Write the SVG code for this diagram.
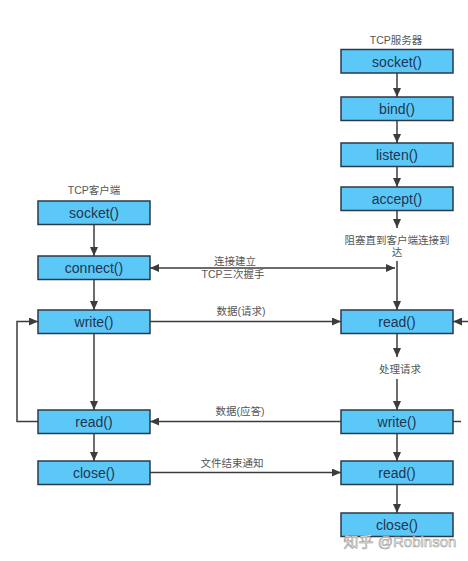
<svg xmlns="http://www.w3.org/2000/svg" width="468" height="561" viewBox="0 0 468 561">
<style>
.box{fill:#5cc8f7;stroke:#2b3a48;stroke-width:1.5}
.bt{font-family:"Liberation Sans",Arial,sans-serif;font-size:14px;fill:#1e3552;text-anchor:middle}
.lb{font-family:"Liberation Sans","Noto Sans CJK SC",sans-serif;font-size:10.5px;fill:#555;text-anchor:middle}
.ln{fill:none;stroke:#3c3c3c;stroke-width:1.5}
</style>
<defs>
<marker id="ah" markerUnits="userSpaceOnUse" markerWidth="10" markerHeight="8" refX="9" refY="4" orient="auto-start-reverse">
<path d="M0,0 L9,4 L0,8 z" fill="#3c3c3c"/>
</marker>
</defs>
<rect width="468" height="561" fill="#fff"/>
<text class="lb" x="94" y="194">TCP客户端</text>
<text class="lb" x="396" y="44">TCP服务器</text>
<g id="connectors">
<line class="ln" x1="94" y1="224.5" x2="94" y2="256" marker-end="url(#ah)"/>
<line class="ln" x1="94" y1="279.5" x2="94" y2="310" marker-end="url(#ah)"/>
<line class="ln" x1="94" y1="333.5" x2="94" y2="410" marker-end="url(#ah)"/>
<line class="ln" x1="94" y1="433.5" x2="94" y2="461" marker-end="url(#ah)"/>
<line class="ln" x1="397" y1="73" x2="397" y2="97" marker-end="url(#ah)"/>
<line class="ln" x1="397" y1="120.5" x2="397" y2="143" marker-end="url(#ah)"/>
<line class="ln" x1="397" y1="166.5" x2="397" y2="187" marker-end="url(#ah)"/>
<line class="ln" x1="397" y1="210.5" x2="397" y2="228" marker-end="url(#ah)"/>
<line class="ln" x1="397" y1="261" x2="397" y2="310" marker-end="url(#ah)"/>
<line class="ln" x1="397" y1="333.5" x2="397" y2="357" marker-end="url(#ah)"/>
<line class="ln" x1="397" y1="379" x2="397" y2="410" marker-end="url(#ah)"/>
<line class="ln" x1="397" y1="433.5" x2="397" y2="461" marker-end="url(#ah)"/>
<line class="ln" x1="397" y1="484.5" x2="397" y2="513" marker-end="url(#ah)"/>
<line class="ln" x1="150" y1="268" x2="395" y2="268" marker-start="url(#ah)" marker-end="url(#ah)"/>
<line class="ln" x1="150" y1="321.5" x2="341" y2="321.5" marker-end="url(#ah)"/>
<line class="ln" x1="341" y1="421.5" x2="150" y2="421.5" marker-end="url(#ah)"/>
<line class="ln" x1="150" y1="472.5" x2="341" y2="472.5" marker-end="url(#ah)"/>
<polyline class="ln" points="38,421.5 17,421.5 17,321.5 38,321.5" marker-end="url(#ah)"/>
<line class="ln" x1="468" y1="321.5" x2="453" y2="321.5" marker-end="url(#ah)"/>
<line class="ln" x1="453" y1="421.5" x2="461" y2="421.5"/>
<text class="lb" x="235" y="265">连接建立</text>
<text class="lb" x="233" y="278">TCP三次握手</text>
<text class="lb" x="241" y="315">数据(请求)</text>
<text class="lb" x="240" y="415">数据(应答)</text>
<text class="lb" x="232" y="467">文件结束通知</text>
<text class="lb" x="397" y="244">阻塞直到客户端连接到</text>
<text class="lb" x="397" y="256">达</text>
<text class="lb" x="400" y="373">处理请求</text>
</g>
<g id="c-socket"><rect class="box" x="38" y="201" width="112" height="23.5"/><text class="bt" x="94" y="218">socket()</text></g>
<g id="c-connect"><rect class="box" x="38" y="256" width="112" height="23.5"/><text class="bt" x="94" y="273">connect()</text></g>
<g id="c-write"><rect class="box" x="38" y="310" width="112" height="23.5"/><text class="bt" x="94" y="327">write()</text></g>
<g id="c-read"><rect class="box" x="38" y="410" width="112" height="23.5"/><text class="bt" x="94" y="427">read()</text></g>
<g id="c-close"><rect class="box" x="38" y="461" width="112" height="23.5"/><text class="bt" x="94" y="478">close()</text></g>
<g id="s-socket"><rect class="box" x="341" y="49.5" width="112" height="23.5"/><text class="bt" x="397" y="66.5">socket()</text></g>
<g id="s-bind"><rect class="box" x="341" y="97" width="112" height="23.5"/><text class="bt" x="397" y="114">bind()</text></g>
<g id="s-listen"><rect class="box" x="341" y="143" width="112" height="23.5"/><text class="bt" x="397" y="160">listen()</text></g>
<g id="s-accept"><rect class="box" x="341" y="187" width="112" height="23.5"/><text class="bt" x="397" y="204">accept()</text></g>
<g id="s-read"><rect class="box" x="341" y="310" width="112" height="23.5"/><text class="bt" x="397" y="327">read()</text></g>
<g id="s-write"><rect class="box" x="341" y="410" width="112" height="23.5"/><text class="bt" x="397" y="427">write()</text></g>
<g id="s-read2"><rect class="box" x="341" y="461" width="112" height="23.5"/><text class="bt" x="397" y="478">read()</text></g>
<g id="s-close"><rect class="box" x="341" y="513" width="112" height="23.5"/><text class="bt" x="397" y="530">close()</text></g>
<text x="400" y="547" font-family="'Liberation Sans','Noto Sans CJK SC',sans-serif" font-size="15" fill="#fff" stroke="#9a9a9a" stroke-width="0.6" text-anchor="middle">知乎 @Robinson</text>
</svg>
